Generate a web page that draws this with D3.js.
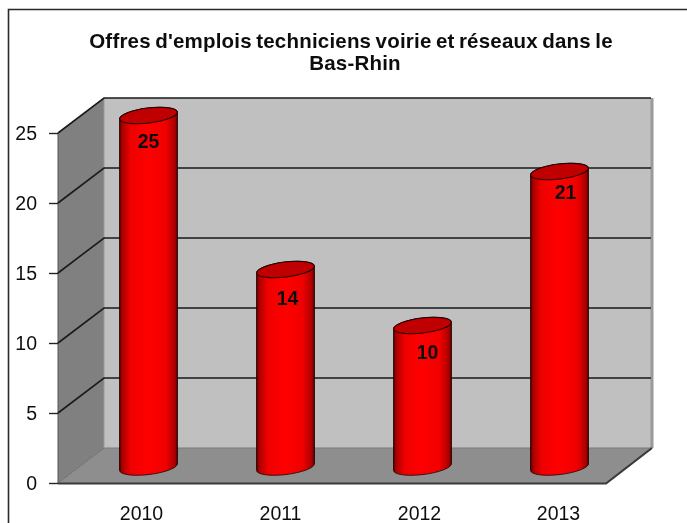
<!DOCTYPE html>
<html>
<head>
<meta charset="utf-8">
<script src="https://cdn.jsdelivr.net/npm/d3@7"></script>
<style>
    html, body { margin: 0; padding: 0; background: #fff; overflow: hidden; }
    text { font-family: "Liberation Sans", Arial, sans-serif; fill: #111; }
</style>
</head>
<body>
<script>
const years = ["2010", "2011", "2012", "2013"];
const offres = [25, 14, 10, 21];
const yTicks = [0, 5, 10, 15, 20, 25];
const titleLines = ["Offres d'emplois techniciens voirie et réseaux dans le", "Bas-Rhin"];

function main(){
    const width = 687, height = 523;

    // front plane of the 3d box, the back wall is shifted by depth
    const left = 58, right = 606;
    const depthX = 46, depthY = -35;
    const rx = 29, ry = 7.5, tilt = 3.5;

    // hand nudges for the value labels, the original places them unevenly
    const labelDx = [0, 2, 5, 6];
    const labelDy = [26, 29, 27, 21];

    const x = d3.scaleBand().domain(years).range([left, right]);
    const y = d3.scaleLinear().domain([0, 25]).range([483, 133]);

    const svg = d3.select("body").append("svg")
        .attr("width", width)
        .attr("height", height)
        .style("display", "block");

    const defs = svg.append("defs");
    defs.append("filter").attr("id", "soft")
        .append("feGaussianBlur").attr("stdDeviation", 0.45);

    const grad = defs.append("linearGradient").attr("id", "cyl");
    [[0, "#400000"], [0.04, "#a80000"], [0.2, "#f00000"], [0.5, "#ff0000"],
     [0.8, "#f00000"], [0.96, "#a80000"], [1, "#400000"]].forEach(function(s){
        grad.append("stop").attr("offset", s[0]).attr("stop-color", s[1]);
    });

    const g = svg.append("g").attr("filter", "url(#soft)");

    // frame
    g.append("path")
        .attr("d", `M8.5,${height}V9.5H${width}`)
        .attr("fill", "none").attr("stroke", "#2a2a2a").attr("stroke-width", 1.6);

    // title
    g.append("g").selectAll("text")
        .data(titleLines)
        .enter().append("text")
        .attr("x", (d, i) => i == 0 ? 351 : 355)
        .attr("y", (d, i) => 48 + i * 22)
        .attr("text-anchor", "middle")
        .attr("font-size", 20.5)
        .attr("font-weight", "bold")
        .attr("letter-spacing", 0.2)
        .attr("word-spacing", -1.5)
        .text(d => d);

    const y0 = y(0), yTop = y(25);

    // walls
    g.append("polygon")
        .attr("points", [[left, y0], [left + depthX, y0 + depthY], [left + depthX, yTop + depthY], [left, yTop]].join(" "))
        .attr("fill", "#808080");
    g.append("rect")
        .attr("x", left + depthX).attr("y", yTop + depthY)
        .attr("width", right - left).attr("height", y0 - yTop)
        .attr("fill", "#c0c0c0");
    g.append("polygon")
        .attr("points", [[left, y0], [right, y0], [right + depthX, y0 + depthY], [left + depthX, y0 + depthY]].join(" "))
        .attr("fill", "#8e8e8e");

    // wall edges
    g.append("line")
        .attr("x1", right + depthX).attr("x2", right + depthX)
        .attr("y1", yTop + depthY).attr("y2", y0 + depthY)
        .attr("stroke", "#9a9a9a").attr("stroke-width", 3);
    g.append("line")
        .attr("x1", left + depthX).attr("x2", right + depthX)
        .attr("y1", y0 + depthY).attr("y2", y0 + depthY)
        .attr("stroke", "#7a7a7a").attr("stroke-width", 1);
    g.append("line")
        .attr("x1", left + depthX).attr("x2", left + depthX)
        .attr("y1", yTop + depthY).attr("y2", y0 + depthY)
        .attr("stroke", "#999").attr("stroke-width", 1);
    g.append("line")
        .attr("x1", left).attr("x2", left)
        .attr("y1", yTop).attr("y2", y0)
        .attr("stroke", "#555").attr("stroke-width", 1);
    g.append("line")
        .attr("x1", left).attr("x2", left + depthX)
        .attr("y1", y0).attr("y2", y0 + depthY)
        .attr("stroke", "#6e6e6e").attr("stroke-width", 1);

    // gridlines, wall then back
    g.append("g").selectAll("path")
        .data(yTicks.filter(d => d > 0))
        .enter().append("path")
        .attr("d", d => `M${left},${y(d)}L${left + depthX},${y(d) + depthY}H${right + depthX - 1}`)
        .attr("fill", "none").attr("stroke", "#1a1a1a").attr("stroke-width", 1.6);

    // floor front edges
    g.append("path")
        .attr("d", `M${left},${y0 + 0.5}H${right}L${right + depthX},${y0 + depthY}`)
        .attr("fill", "none").attr("stroke", "#3a3a3a").attr("stroke-width", 2.2);

    // axes
    const yAxis = g.append("g")
        .attr("transform", `translate(${left},0)`)
        .call(d3.axisLeft(y).tickValues(yTicks).tickSize(9).tickPadding(12));
    yAxis.select(".domain").remove();
    yAxis.selectAll("line").attr("stroke", "#222").attr("stroke-width", 1.4);
    yAxis.selectAll("text").attr("font-size", 19.5).attr("fill", "#222").attr("dy", "0.32em");

    // year labels are spaced a bit wider than the bars
    const xAxis = g.append("g")
        .attr("transform", `translate(15,${y0})`)
        .call(d3.axisBottom(x).tickSize(0).tickPadding(23));
    xAxis.select(".domain").remove();
    xAxis.selectAll("text").attr("font-size", 19.5).attr("fill", "#222")
        .attr("dx", (d, i) => i * 2);

    // cylinders
    const cx = d => x(d) + x.bandwidth() / 2 + depthX / 2 - 1;
    const topY = v => y(v) - 17.5;
    const botY = y0 - 16;

    const bars = g.append("g").selectAll("g")
        .data(years.map((d, i) => ({year: d, value: offres[i]})))
        .enter().append("g");

    bars.append("path")
        .attr("d", d => {
            const c = cx(d.year), t = topY(d.value);
            return `M${c - rx},${t + tilt}L${c - rx},${botY + tilt}` +
                `A${rx},${ry} -7 0 0 ${c + rx},${botY - tilt}` +
                `L${c + rx},${t - tilt}` +
                `A${rx},${ry} -7 0 0 ${c - rx},${t + tilt}Z`;
        })
        .attr("fill", "url(#cyl)")
        .attr("stroke", "#200000").attr("stroke-width", 0.8);

    bars.append("ellipse")
        .attr("cx", 0).attr("cy", 0)
        .attr("rx", rx).attr("ry", ry)
        .attr("transform", d => `translate(${cx(d.year)},${topY(d.value)}) rotate(-7)`)
        .attr("fill", "#c00000")
        .attr("stroke", "#200000").attr("stroke-width", 1);

    bars.append("text")
        .attr("x", (d, i) => cx(d.year) + labelDx[i])
        .attr("y", (d, i) => topY(d.value) + labelDy[i])
        .attr("dy", "0.35em")
        .attr("text-anchor", "middle")
        .attr("font-size", 19.5)
        .attr("font-weight", "bold")
        .attr("fill", "#111")
        .text(d => d.value);
}
main();
</script>
</body>
</html>
